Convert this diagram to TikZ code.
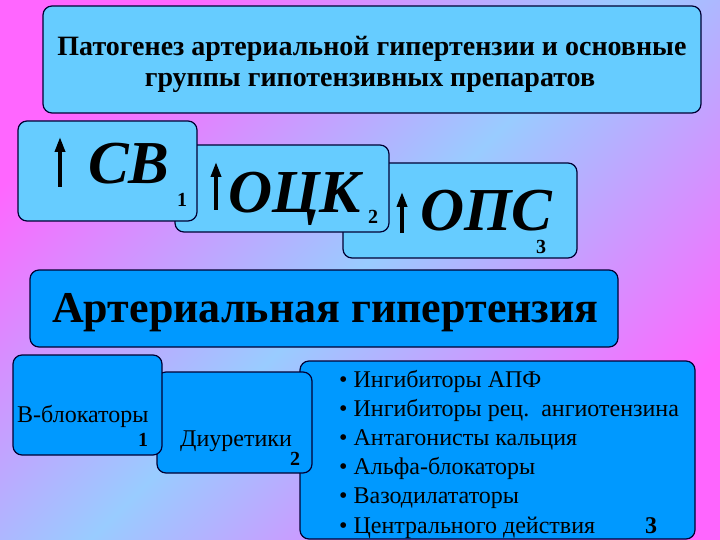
\documentclass[tikz,border=0pt]{standalone}
\usepackage{fontspec}
\newfontfamily\slidefont{Liberation Serif}
\usetikzlibrary{arrows.meta}

\begin{document}
\begin{tikzpicture}[x=1pt,y=1pt,yscale=-1,
  pale/.style={draw={rgb, 255:red, 0; green, 0; blue, 51}, line width=1.2pt, rounded corners=9pt, fill={rgb, 255:red, 102; green, 204; blue, 255}},
  deep/.style={pale, fill={rgb, 255:red, 0; green, 153; blue, 255}},
  uparrow/.style={line width=3.5pt, -{Triangle[length=15pt,width=10pt]}},
  headtext/.style={inner sep=0pt, font=\slidefont\fontsize{28}{31}\selectfont\bfseries},
  bigtext/.style={inner sep=0pt, font=\slidefont\fontsize{61}{61}\selectfont\bfseries\itshape},
  arttext/.style={inner sep=0pt, font=\slidefont\fontsize{44}{44}\selectfont\bfseries},
  plaintext/.style={inner sep=0pt, font=\slidefont\fontsize{24}{24}\selectfont},
  numtext/.style={inner sep=0pt, font=\slidefont\fontsize{20}{20}\selectfont\bfseries}]

%Background
\shade [top color={rgb, 255:red, 255; green, 102; blue, 255}, bottom color={rgb, 255:red, 255; green, 102; blue, 255}, middle color={rgb, 255:red, 153; green, 204; blue, 255}, shading angle=45] (0,0) rectangle (720,540);

%Shape: Rectangle, title
\draw [pale] (43,6) rectangle (701,113);

%Shape: Rectangles, three causes (last one on top)
\draw [pale] (343,163) rectangle (577,258);
\draw [pale] (175,145) rectangle (389,232);
\draw [pale] (18,121) rectangle (197,221);

%Shape: Rectangle, hypertension
\draw [deep] (30,270) rectangle (618,347);

%Shape: Rectangles, drug groups (last one on top)
\draw [deep] (300,361) rectangle (695,539);
\draw [deep] (157,372) rectangle (312,473);
\draw [deep] (13,355) rectangle (162,455);

%Arrows up
\draw [uparrow] (60,187) -- (60,137);
\draw [uparrow] (216,210) -- (216,162);
\draw [uparrow] (402,233) -- (402,192);

% Text Node
\node [headtext, anchor=base] (head1) at (372,56) {Патогенез артериальной гипертензии и основные};
% Text Node
\node [headtext, anchor=base] (head2) at (370,87) {группы гипотензивных препаратов};
% Text Node
\node [bigtext, anchor=base west] (cv) at (88,184) {СВ};
\node [numtext, anchor=base west] (cv1) at (177,207) {1};
% Text Node
\node [bigtext, anchor=base west] (ock) at (228,213) {ОЦК};
\node [numtext, anchor=base west] (ock2) at (368,223) {2};
% Text Node
\node [bigtext, anchor=base west] (ops) at (420,230) {ОПС};
\node [numtext, anchor=base west] (ops3) at (536,254) {3};
% Text Node
\node [arttext, anchor=base west] (ag) at (52,322) {Артериальная гипертензия};
% Text Node
\node [plaintext, anchor=base west] (bblock) at (17,422) {В-блокаторы};
\node [numtext, anchor=base west] (bblock1) at (138,446) {1};
% Text Node
\node [plaintext, anchor=base west] (diur) at (180,446) {Диуретики};
\node [numtext, anchor=base west] (diur2) at (290,465) {2};
% Text Node
\foreach \txt [count=\i] in {Ингибиторы АПФ, Ингибиторы рец.~~ангиотензина, Антагонисты кальция, Альфа-блокаторы, Вазодилататоры, Центрального действия}
  \node [plaintext, anchor=base west] (drug\i) at (339,357.8+29.2*\i) {\textbullet\ \txt};
\node [numtext, font=\slidefont\fontsize{24}{24}\selectfont\bfseries, anchor=base west] (drug3) at (645,533) {3};

\end{tikzpicture}
\end{document}
